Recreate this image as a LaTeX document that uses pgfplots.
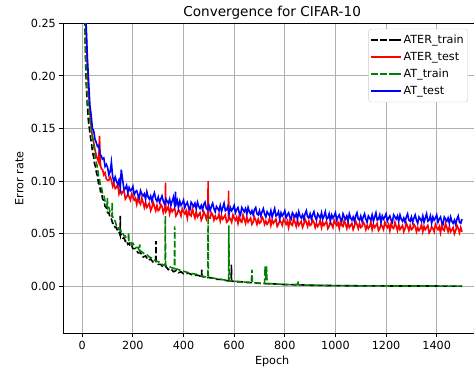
\documentclass[border=0pt]{standalone}
\usepackage{fontspec}
\setmainfont{DejaVu Sans}
\usepackage{pgfplots}
\pgfplotsset{compat=1.18}
\definecolor{mplgreen}{RGB}{0,128,0}
\definecolor{gridgray}{RGB}{176,176,176}
\begin{document}
\begin{tikzpicture}[font=\fontsize{11.2pt}{13.4pt}\selectfont]
\begin{axis}[
  name=ax, scale only axis, width=417.7pt, height=310pt,
  xmin=-75, xmax=1575, ymin=-0.0445, ymax=0.25,
  xtick={0,200,400,600,800,1000,1200,1400},
  ytick={0,0.05,0.1,0.15,0.2,0.25},
  scaled x ticks=false, scaled y ticks=false,
  /pgf/number format/assume math mode=true,
  xticklabel style={/pgf/number format/1000 sep={}},
  yticklabel style={/pgf/number format/fixed, /pgf/number format/fixed zerofill, /pgf/number format/precision=2},
  tick pos=left, tick align=outside, major tick length=3.9pt,
  tick style={black, line width=0.9pt},
  axis line style={line width=0.9pt},
  grid=major, grid style={gridgray, line width=0.9pt},
  title={Convergence for CIFAR-10},
  every axis title/.style={at={(axis description cs:0.5,1)}, anchor=base, yshift=6.6pt, font=\fontsize{13.6pt}{16pt}\selectfont},
  xlabel={Epoch},
  every axis x label/.style={at={(axis description cs:0.5,0)}, anchor=base, yshift=-31.2pt},
  ylabel={Error rate},
  every axis y label/.style={at={(axis description cs:-0.0953,0.5)}, rotate=90, anchor=base},
  legend cell align=left,
  legend image code/.code={\draw[#1] (0pt,0pt) -- (24pt,0pt); \path (24pt,0pt) -- (29.3pt,0pt);},
  legend style={at={(axis description cs:0.7311,1)}, anchor=north west, yshift=-5.7pt,
    draw=black!20, fill=white, rounded corners=2.5pt, inner xsep=2pt, inner ysep=2.5pt, outer sep=0pt,
    nodes={inner xsep=2pt, inner ysep=3pt, text height=8.5pt, text depth=2.5pt}},
  every axis plot/.append style={line width=1.6pt},
]
% ATER_train
\addplot[black, dash pattern=on 6.2pt off 2.7pt] coordinates {
(1,0.60) (4,0.40) (7,0.31) (10,0.255) (13,0.215) (16,0.19) (20,0.172) (24,0.158) (28,0.150) (32,0.142)
(36,0.137) (40,0.128) (44,0.124) (48,0.117) (52,0.114) (56,0.108) (60,0.105) (64,0.098) (68,0.097) (72,0.090)
(76,0.090) (80,0.083) (85,0.082) (90,0.076) (95,0.075) (100,0.070) (105,0.070) (110,0.065) (115,0.064) (120,0.060)
(125,0.060) (130,0.056) (135,0.056) (140,0.052) (145,0.052) (149,0.049) (150,0.067) (151,0.050) (155,0.049) (160,0.046)
(165,0.046) (170,0.043) (175,0.044) (180,0.040) (185,0.041) (190,0.038) (195,0.039) (200,0.036) (210,0.036) (220,0.032)
(230,0.032) (240,0.028) (250,0.029) (260,0.025) (270,0.026) (280,0.023) (290,0.023) (291,0.043) (292,0.022) (300,0.021)
(310,0.021) (320,0.018) (330,0.019) (340,0.016) (350,0.017) (360,0.014) (370,0.015) (380,0.013) (390,0.014) (400,0.012)
(420,0.0125) (440,0.0105) (460,0.0105) (471,0.009) (472,0.016) (473,0.0095) (490,0.0085) (510,0.0082) (530,0.0068) (550,0.0067)
(570,0.0055) (588,0.0053) (589,0.0207) (590,0.0051) (610,0.0045) (630,0.0044) (650,0.0038) (680,0.0035) (700,0.0029) (750,0.0025)
(800,0.0018) (850,0.0016) (900,0.0012) (1000,0.0008) (1100,0.0006) (1200,0.0005) (1300,0.0004) (1400,0.0004) (1500,0.0003)
};
\addlegendentry{ATER\_train}
% ATER_test
\addplot[red] coordinates {
(1,0.55) (5,0.39) (10,0.29) (15,0.245) (20,0.21) (25,0.185) (30,0.165) (35,0.152) (40,0.142) (45,0.137)
(50,0.130) (55,0.125) (60,0.121) (65,0.118) (68,0.143) (72,0.115) (75,0.112) (80,0.111) (85,0.106) (90,0.108) (95,0.102)
(100,0.101) (105,0.101) (110,0.104) (115,0.101) (120,0.095) (125,0.098) (130,0.093) (135,0.094) (140,0.097) (145,0.088)
(150,0.092) (155,0.088) (160,0.090) (165,0.091) (170,0.083) (175,0.085) (180,0.088) (185,0.085) (190,0.082) (195,0.088)
(200,0.085) (205,0.082) (210,0.084) (215,0.078) (220,0.084) (225,0.080) (230,0.078) (235,0.084) (240,0.080) (245,0.075)
(250,0.080) (255,0.075) (260,0.077) (265,0.079) (270,0.072) (275,0.075) (280,0.080) (285,0.076) (290,0.072) (295,0.077)
(300,0.072) (305,0.073) (310,0.078) (315,0.076) (320,0.070) (325,0.074) (328,0.073) (329,0.0987) (330,0.071) (335,0.073)
(340,0.076) (345,0.069) (350,0.074) (355,0.071) (360,0.073) (365,0.074) (370,0.067) (375,0.069) (380,0.073) (385,0.071)
(390,0.067) (395,0.074) (400,0.071) (405,0.069) (410,0.072) (415,0.065) (420,0.072) (425,0.068) (430,0.067) (435,0.074)
(440,0.069) (445,0.065) (450,0.071) (455,0.066) (460,0.068) (465,0.070) (470,0.063) (475,0.066) (480,0.071) (485,0.068)
(490,0.064) (495,0.069) (496,0.067) (497,0.100) (498,0.066) (500,0.065) (505,0.065) (510,0.070) (515,0.068) (520,0.063)
(525,0.067) (530,0.064) (535,0.065) (540,0.069) (545,0.062) (550,0.067) (555,0.064) (560,0.066) (565,0.068) (570,0.061)
(575,0.062) (577,0.064) (578,0.091) (579,0.063) (580,0.066) (585,0.064) (590,0.061) (595,0.068) (600,0.065) (605,0.063)
(610,0.066) (615,0.060) (620,0.067) (625,0.062) (630,0.061) (635,0.068) (640,0.064) (645,0.060) (650,0.066) (655,0.061)
(660,0.063) (665,0.065) (670,0.059) (675,0.061) (680,0.066) (685,0.063) (690,0.059) (695,0.064) (700,0.060) (705,0.061)
(710,0.066) (715,0.064) (720,0.059) (725,0.062) (730,0.059) (735,0.061) (740,0.065) (745,0.058) (750,0.063) (755,0.060)
(760,0.062) (765,0.064) (770,0.057) (775,0.059) (780,0.063) (785,0.061) (790,0.058) (795,0.064) (800,0.062) (805,0.059)
(810,0.062) (815,0.056) (820,0.063) (825,0.059) (830,0.058) (835,0.065) (840,0.061) (845,0.057) (850,0.063) (855,0.058)
(860,0.060) (865,0.062) (870,0.056) (875,0.059) (880,0.064) (885,0.061) (890,0.057) (895,0.062) (900,0.058) (905,0.059)
(910,0.063) (915,0.061) (920,0.056) (925,0.060) (930,0.057) (935,0.059) (940,0.063) (945,0.056) (950,0.061) (955,0.058)
(960,0.060) (965,0.062) (970,0.055) (975,0.057) (980,0.061) (985,0.059) (990,0.056) (995,0.063) (1000,0.060) (1005,0.058)
(1010,0.061) (1015,0.055) (1020,0.062) (1025,0.058) (1030,0.057) (1035,0.063) (1040,0.059) (1045,0.055) (1050,0.061) (1055,0.056)
(1060,0.058) (1065,0.060) (1070,0.054) (1075,0.057) (1080,0.062) (1085,0.059) (1090,0.055) (1095,0.060) (1100,0.056) (1105,0.057)
(1110,0.061) (1115,0.059) (1120,0.054) (1125,0.058) (1130,0.055) (1135,0.057) (1140,0.061) (1145,0.054) (1150,0.059) (1155,0.056)
(1160,0.058) (1165,0.060) (1170,0.053) (1175,0.055) (1180,0.059) (1185,0.057) (1190,0.054) (1195,0.061) (1200,0.058) (1205,0.056)
(1210,0.059) (1215,0.053) (1220,0.060) (1225,0.056) (1230,0.055) (1235,0.061) (1240,0.057) (1245,0.053) (1250,0.059) (1255,0.054)
(1260,0.056) (1265,0.058) (1270,0.052) (1275,0.055) (1280,0.060) (1285,0.057) (1290,0.053) (1295,0.058) (1300,0.054) (1305,0.055)
(1310,0.059) (1315,0.057) (1320,0.052) (1325,0.056) (1330,0.053) (1335,0.055) (1340,0.059) (1345,0.052) (1350,0.057) (1355,0.054)
(1360,0.056) (1365,0.058) (1370,0.051) (1375,0.053) (1380,0.057) (1385,0.055) (1390,0.052) (1395,0.059) (1400,0.056) (1405,0.054)
(1410,0.057) (1415,0.051) (1420,0.058) (1425,0.054) (1430,0.053) (1435,0.060) (1440,0.056) (1445,0.052) (1450,0.057) (1455,0.052)
(1460,0.054) (1465,0.056) (1470,0.050) (1475,0.053) (1480,0.058) (1485,0.055) (1490,0.051) (1495,0.056) (1500,0.052)
};
\addlegendentry{ATER\_test}
% AT_train
\addplot[mplgreen, dash pattern=on 6.2pt off 2.7pt] coordinates {
(1,0.60) (4,0.41) (7,0.32) (10,0.262) (13,0.225) (16,0.20) (20,0.182) (24,0.17) (28,0.162) (32,0.155)
(36,0.149) (40,0.143) (44,0.136) (48,0.129) (52,0.122) (56,0.117) (60,0.113) (64,0.105) (68,0.102) (72,0.095)
(76,0.094) (80,0.088) (85,0.087) (90,0.081) (95,0.080) (98,0.077) (99,0.084) (100,0.077) (105,0.075) (110,0.070)
(115,0.069) (117,0.066) (118,0.080) (119,0.067) (125,0.063) (130,0.062) (135,0.058) (140,0.058) (145,0.054) (150,0.054)
(155,0.051) (160,0.051) (165,0.048) (170,0.048) (175,0.045) (182,0.045) (183,0.051) (184,0.043) (190,0.043) (195,0.040)
(200,0.041) (210,0.037) (220,0.037) (226,0.034) (227,0.040) (228,0.034) (235,0.033) (245,0.031) (255,0.030) (265,0.028)
(275,0.027) (285,0.025) (295,0.024) (305,0.023) (315,0.021) (327,0.020) (328,0.067) (329,0.020) (340,0.019) (352,0.018)
(364,0.017) (365,0.057) (366,0.017) (380,0.016) (400,0.0145) (420,0.013) (440,0.012) (460,0.011) (480,0.0095) (496,0.0088)
(497,0.067) (498,0.0088) (520,0.0078) (540,0.007) (560,0.0062) (578,0.0056) (579,0.058) (580,0.0055) (600,0.0050) (620,0.0046)
(640,0.0042) (668,0.0038) (670,0.016) (672,0.0037) (700,0.0032) (720,0.0029) (722,0.019) (725,0.006) (728,0.019) (730,0.0028)
(760,0.0024) (800,0.0019) (850,0.0016) (852,0.0055) (854,0.0016) (900,0.0012) (1000,0.0008) (1100,0.0006) (1200,0.0005) (1300,0.0004)
(1400,0.0004) (1500,0.0003)
};
\addlegendentry{AT\_train}
% AT_test
\addplot[blue] coordinates {
(1,0.56) (5,0.40) (10,0.30) (15,0.25) (20,0.218) (25,0.195) (30,0.172) (35,0.163) (40,0.150) (45,0.148)
(50,0.140) (55,0.137) (60,0.133) (65,0.134) (70,0.126) (75,0.124) (80,0.121) (85,0.122) (90,0.114) (95,0.116)
(100,0.113) (105,0.106) (110,0.109) (115,0.118) (120,0.104) (125,0.100) (130,0.104) (135,0.100) (140,0.097) (145,0.101)
(150,0.094) (154,0.111) (160,0.100) (165,0.092) (170,0.093) (175,0.096) (180,0.089) (185,0.094) (190,0.091) (195,0.092)
(200,0.095) (205,0.087) (210,0.090) (215,0.091) (220,0.087) (225,0.084) (230,0.091) (235,0.088) (240,0.086) (245,0.088)
(250,0.083) (255,0.090) (260,0.085) (265,0.083) (270,0.086) (275,0.081) (280,0.086) (285,0.089) (290,0.083) (295,0.081)
(300,0.085) (305,0.080) (310,0.083) (315,0.086) (320,0.081) (325,0.078) (330,0.083) (335,0.081) (340,0.079) (345,0.083)
(350,0.077) (355,0.081) (360,0.085) (365,0.077) (367,0.079) (368,0.090) (369,0.079) (370,0.078) (375,0.082) (380,0.075)
(385,0.081) (390,0.077) (395,0.079) (400,0.082) (405,0.075) (410,0.078) (415,0.080) (420,0.075) (425,0.073) (430,0.080)
(435,0.078) (440,0.076) (445,0.079) (450,0.074) (455,0.080) (460,0.076) (465,0.074) (470,0.077) (475,0.073) (480,0.078)
(485,0.080) (490,0.074) (495,0.073) (500,0.077) (505,0.072) (510,0.076) (515,0.079) (520,0.074) (525,0.071) (530,0.076)
(535,0.074) (540,0.072) (545,0.077) (550,0.071) (555,0.075) (560,0.079) (565,0.072) (570,0.073) (575,0.076) (580,0.069)
(585,0.075) (590,0.072) (595,0.074) (600,0.077) (605,0.070) (610,0.073) (615,0.075) (620,0.070) (625,0.068) (630,0.075)
(635,0.073) (640,0.071) (645,0.074) (650,0.069) (655,0.075) (660,0.071) (665,0.069) (670,0.072) (675,0.068) (680,0.073)
(685,0.075) (690,0.069) (695,0.068) (700,0.072) (705,0.067) (710,0.071) (715,0.074) (720,0.069) (725,0.066) (730,0.071)
(735,0.069) (740,0.067) (745,0.072) (750,0.066) (755,0.070) (760,0.074) (765,0.067) (770,0.068) (775,0.071) (780,0.064)
(785,0.070) (790,0.067) (795,0.069) (800,0.072) (805,0.065) (810,0.068) (815,0.070) (820,0.066) (825,0.064) (830,0.070)
(835,0.068) (840,0.066) (845,0.069) (850,0.064) (855,0.071) (860,0.067) (865,0.065) (870,0.068) (875,0.064) (880,0.069)
(885,0.072) (890,0.066) (895,0.065) (900,0.069) (905,0.064) (910,0.068) (915,0.071) (920,0.066) (925,0.063) (930,0.069)
(935,0.067) (940,0.065) (945,0.070) (950,0.064) (955,0.067) (960,0.071) (965,0.064) (970,0.065) (975,0.069) (980,0.062)
(985,0.068) (990,0.065) (995,0.067) (1000,0.070) (1005,0.063) (1010,0.066) (1015,0.068) (1020,0.064) (1025,0.062) (1030,0.069)
(1035,0.066) (1040,0.064) (1045,0.067) (1050,0.062) (1055,0.069) (1060,0.065) (1065,0.063) (1070,0.066) (1075,0.062) (1080,0.067)
(1085,0.070) (1090,0.064) (1095,0.063) (1100,0.067) (1105,0.062) (1110,0.066) (1115,0.069) (1120,0.064) (1125,0.061) (1130,0.067)
(1135,0.065) (1140,0.063) (1145,0.068) (1150,0.062) (1155,0.066) (1160,0.070) (1165,0.063) (1170,0.064) (1175,0.068) (1180,0.061)
(1185,0.067) (1190,0.064) (1195,0.066) (1200,0.069) (1205,0.062) (1210,0.065) (1215,0.067) (1220,0.063) (1225,0.061) (1230,0.068)
(1235,0.066) (1240,0.064) (1245,0.067) (1250,0.062) (1255,0.068) (1260,0.064) (1265,0.062) (1270,0.065) (1275,0.061) (1280,0.066)
(1285,0.069) (1290,0.063) (1295,0.062) (1300,0.066) (1305,0.061) (1310,0.065) (1315,0.068) (1320,0.063) (1325,0.060) (1330,0.066)
(1335,0.064) (1340,0.062) (1345,0.067) (1350,0.061) (1355,0.065) (1360,0.069) (1365,0.062) (1370,0.063) (1375,0.067) (1380,0.060)
(1385,0.066) (1390,0.063) (1395,0.065) (1400,0.068) (1405,0.061) (1410,0.064) (1415,0.066) (1420,0.061) (1425,0.059) (1430,0.066)
(1435,0.064) (1440,0.062) (1445,0.065) (1450,0.060) (1455,0.066) (1460,0.062) (1465,0.060) (1470,0.063) (1475,0.059) (1480,0.064)
(1485,0.067) (1490,0.061) (1495,0.060) (1500,0.064)
};
\addlegendentry{AT\_test}
\end{axis}
\pgfresetboundingbox
\path[use as bounding box] ([xshift=-63.3pt,yshift=-39.7pt]ax.south west) rectangle ([xshift=410.7pt,yshift=333.3pt]ax.south west);
\end{tikzpicture}
\end{document}
